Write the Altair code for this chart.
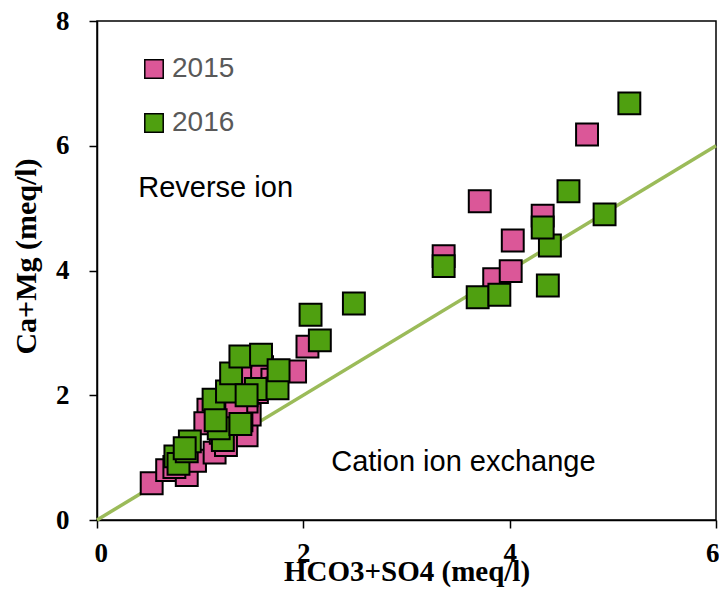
import altair as alt
import pandas as pd

# 2015 samples
x2015 = [0.53, 0.68, 0.87, 0.75, 0.95, 1.14, 1.08, 1.05, 1.20, 1.45, 1.48, 1.40, 1.51, 1.55,
         1.45, 1.60, 1.70, 1.92, 2.04, 3.36, 3.71, 3.85, 4.01, 4.03, 4.32, 4.75, 1.25, 1.35]
y2015 = [0.59, 0.80, 0.72, 0.85, 0.95, 1.08, 1.77, 1.55, 1.40, 1.36, 1.69, 1.60, 2.30, 2.05,
         1.90, 2.45, 2.25, 2.38, 2.78, 4.23, 5.11, 3.86, 3.99, 4.48, 4.88, 6.18, 1.20, 1.80]
# 2016 samples
x2016 = [0.76, 0.79, 0.87, 0.90, 0.85, 1.22, 1.18, 1.39, 1.13, 1.26, 1.30, 1.39, 1.59, 1.54,
         1.75, 1.76, 2.16, 2.07, 2.49, 3.36, 3.69, 3.90, 4.37, 4.39, 4.32, 4.57, 4.92, 5.16,
         1.15, 1.45]
y2016 = [1.02, 0.90, 1.10, 1.26, 1.15, 1.28, 1.47, 1.54, 1.93, 2.06, 2.35, 2.62, 2.65, 2.10,
         2.11, 2.40, 2.88, 3.29, 3.47, 4.07, 3.57, 3.61, 3.76, 4.40, 4.69, 5.27, 4.90, 6.68,
         1.60, 2.00]

line_x = [0, 6]
years = ["2015", "2016"]
colors = ["#DB5798", "#4FA010"]

notes = ["Reverse ion", "Cation ion exchange"]
note_x = [0.40, 2.27]
note_y = [5.32, 0.93]

x_ticks = [0, 2, 4, 6]
y_ticks = [0, 2, 4, 6, 8]

pts = pd.DataFrame(
    {"x": x2015 + x2016,
     "y": y2015 + y2016,
     "year": ["2015"] * len(x2015) + ["2016"] * len(x2016),
     "order": [0] * len(x2015) + [1] * len(x2016)}
)
line_df = pd.DataFrame({"x": line_x, "y": line_x})
note_df = pd.DataFrame({"t": notes, "x": note_x, "y": note_y})

xs = alt.Scale(domain=[0, 6], nice=False)
ys = alt.Scale(domain=[0, 8], nice=False)

xax = alt.Axis(values=x_ticks, title="HCO3+SO4 (meq/l)", grid=False, format="d",
               labelFont="Liberation Serif", labelFontSize=27, labelFontWeight="bold",
               labelColor="black", titleFont="Liberation Serif", titleFontSize=29,
               titleFontWeight="bold", titleColor="black", tickSize=8, tickColor="black",
               domainColor="black", domainWidth=1.5, tickWidth=1.5, labelPadding=12,
               titlePadding=-9, labelFlush=True, labelFlushOffset=3)
yax = alt.Axis(values=y_ticks, title="Ca+Mg (meq/l)", grid=False, format="d",
               labelFont="Liberation Serif", labelFontSize=27, labelFontWeight="bold",
               labelColor="black", titleFont="Liberation Serif", titleFontSize=30,
               titleFontWeight="bold", titleColor="black", tickSize=8, tickColor="black",
               domainColor="black", domainWidth=1.5, tickWidth=1.5, labelPadding=20,
               titlePadding=14, titleY=235, labelFlush=False)

line = alt.Chart(line_df).mark_line(color="#9BBB59", strokeWidth=3.5).encode(
    x=alt.X("x:Q", scale=xs, axis=xax),
    y=alt.Y("y:Q", scale=ys, axis=yax),
)

points = alt.Chart(pts).mark_square(size=480, stroke="black", strokeWidth=2, opacity=1,
                                    filled=True).encode(
    x=alt.X("x:Q", scale=xs),
    y=alt.Y("y:Q", scale=ys),
    color=alt.Color("year:N", scale=alt.Scale(domain=years, range=colors),
                    legend=alt.Legend(title=None, orient="none", legendX=43, legendY=34,
                                      symbolType="square", symbolSize=340,
                                      symbolStrokeColor="black", symbolStrokeWidth=1.5,
                                      symbolOpacity=1,
                                      labelFont="Liberation Sans", labelFontSize=28,
                                      labelColor="#595959", labelOffset=4,
                                      rowPadding=26, padding=0)),
    order=alt.Order("order:Q"),
)

text = alt.Chart(note_df).mark_text(align="left", baseline="middle", font="Liberation Sans",
                                    fontSize=29, color="black").encode(
    x=alt.X("x:Q", scale=xs),
    y=alt.Y("y:Q", scale=ys),
    text="t:N",
)

chart = (line + points + text).properties(
    width=619, height=499,
    autosize=alt.AutoSizeParams(type="none"),
    padding={"left": 89, "top": 13, "right": 3, "bottom": 71},
    background="white",
).configure_view(stroke="black", strokeWidth=1.5)

chart.save("out.html", embed_options={"renderer": "svg", "actions": False})
